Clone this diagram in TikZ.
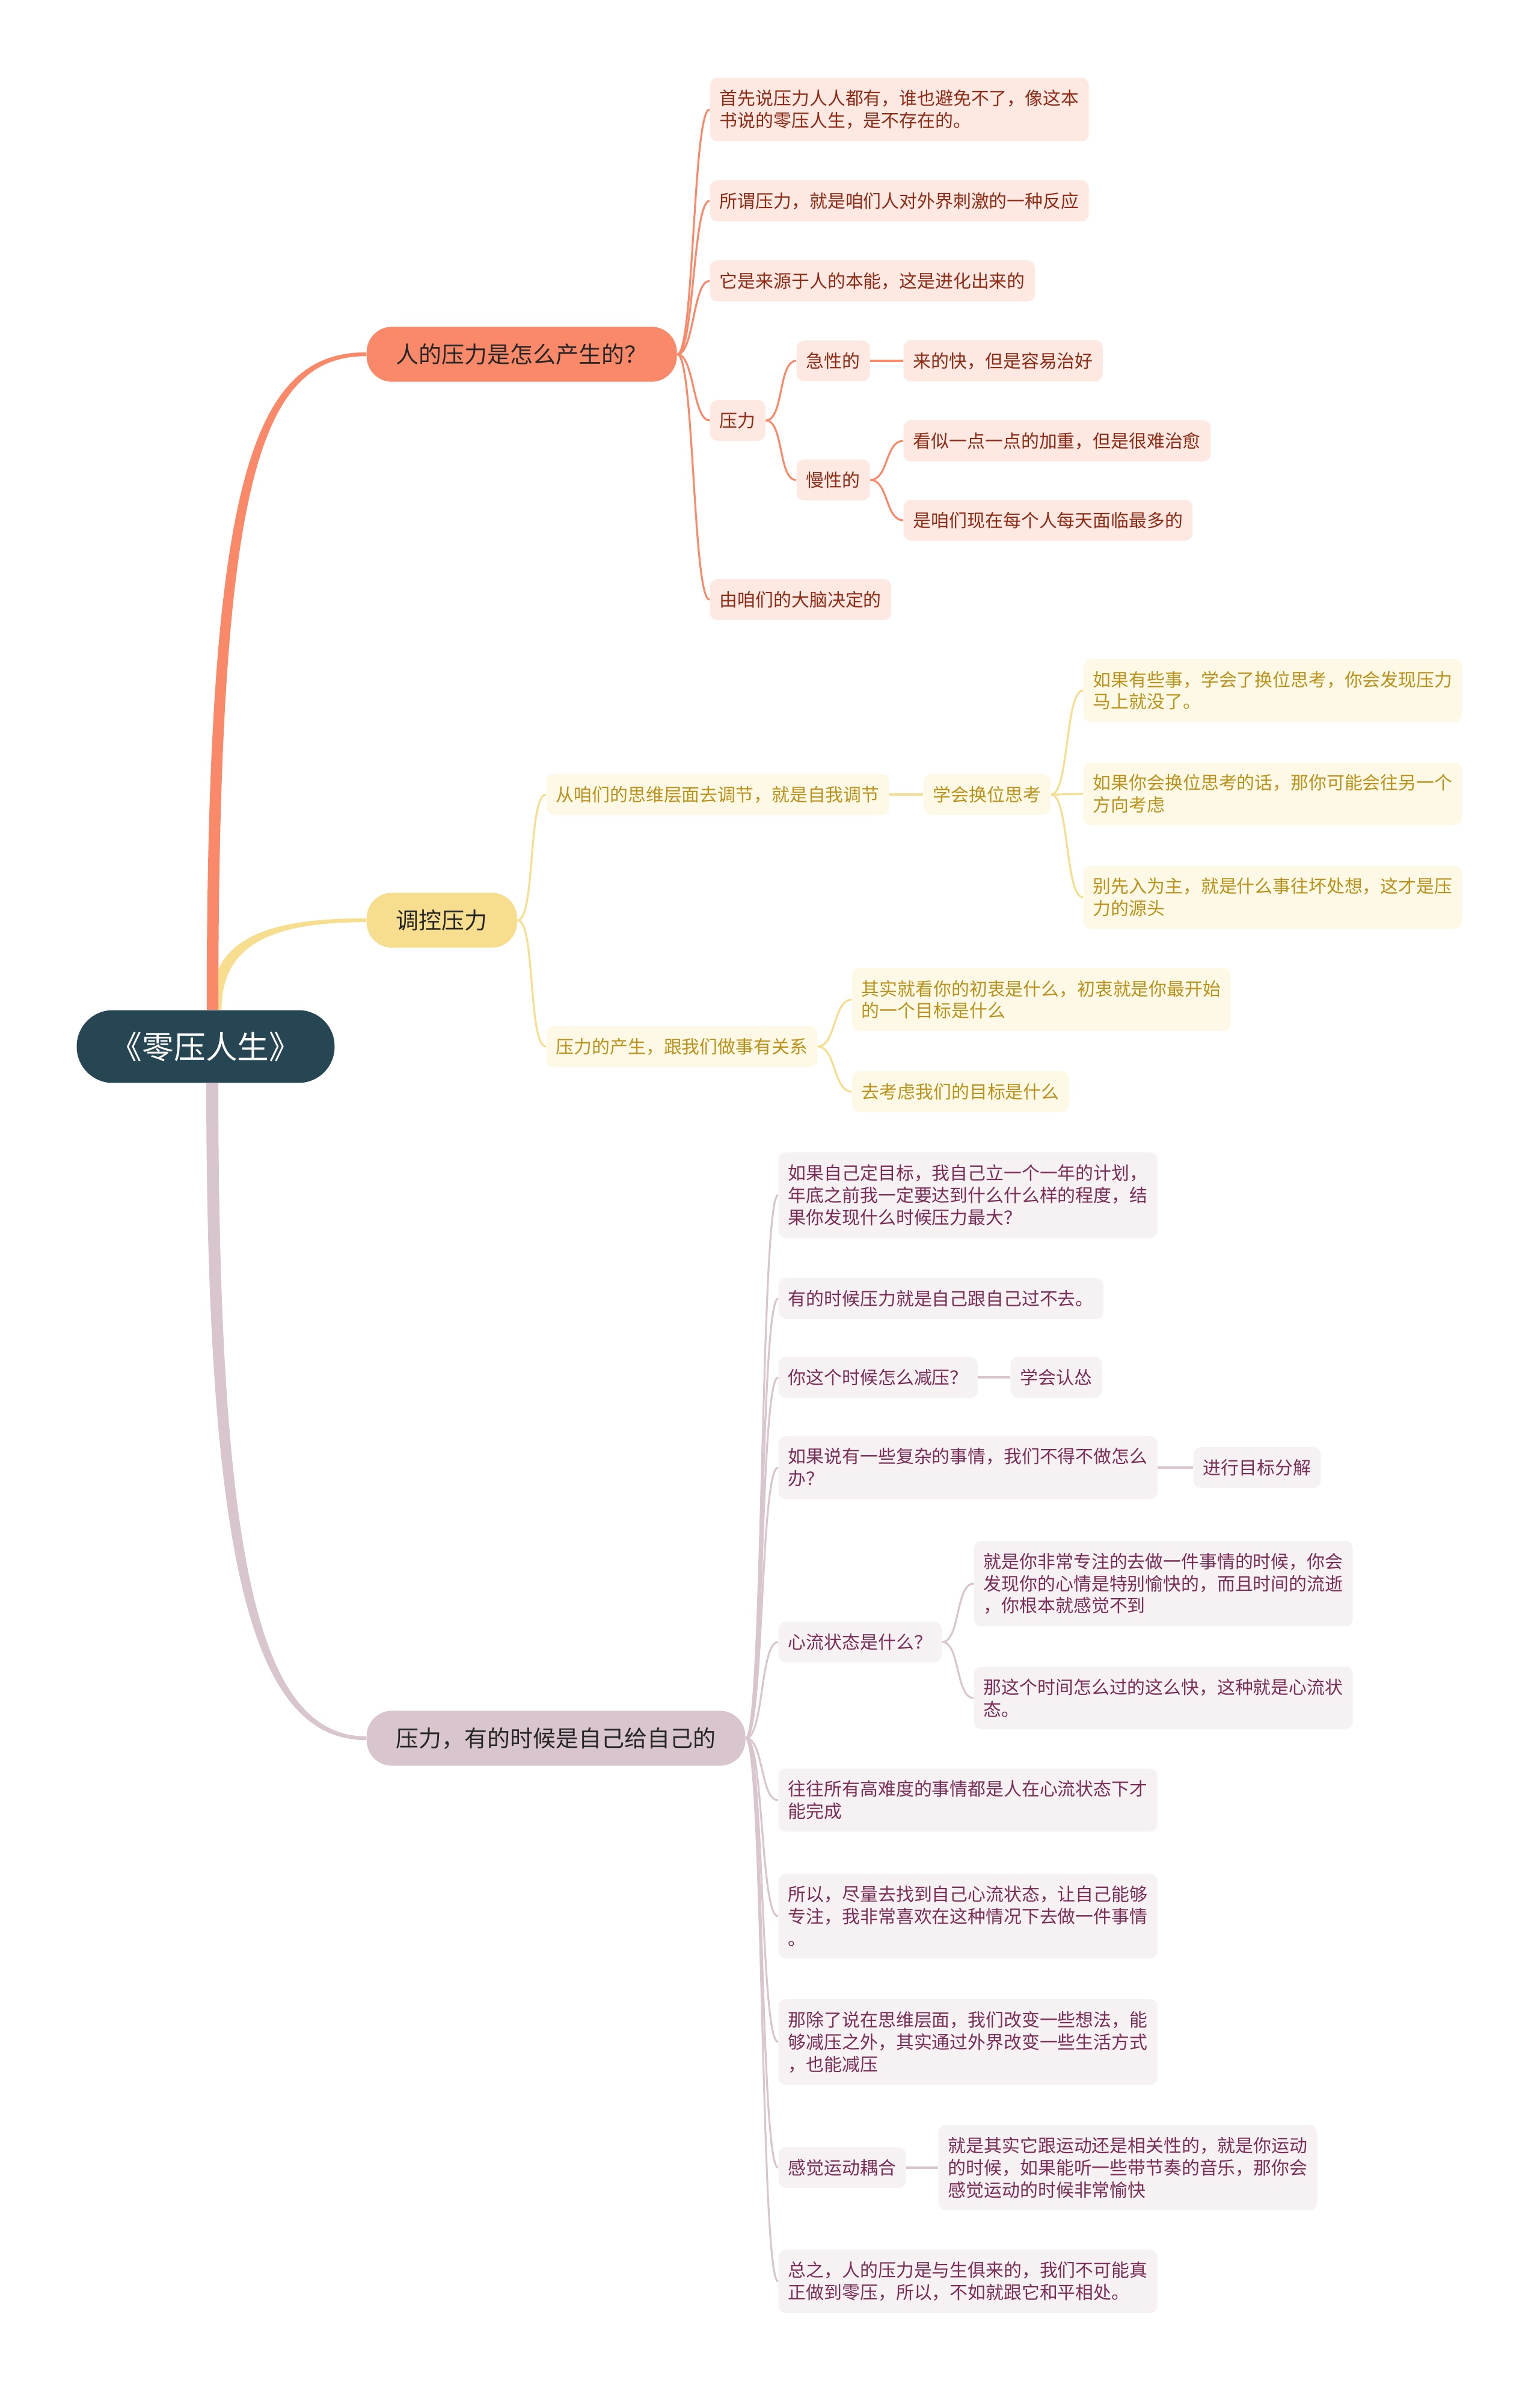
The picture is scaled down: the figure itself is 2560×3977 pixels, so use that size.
\documentclass[tikz,border=0pt]{standalone}
\usepackage{fontspec}
\newfontfamily\cjk{Noto Sans CJK SC}
\definecolor{rootcol}{RGB}{38,70,84}
\definecolor{colA}{RGB}{250,137,105}
\definecolor{colB}{RGB}{247,222,142}
\definecolor{colC}{RGB}{216,197,206}
\definecolor{fillA}{RGB}{253,232,226}
\definecolor{fillB}{RGB}{254,249,230}
\definecolor{fillC}{RGB}{246,241,243}
\definecolor{textA}{RGB}{143,42,20}
\definecolor{textB}{RGB}{186,146,26}
\definecolor{textC}{RGB}{122,45,85}

\begin{document}
\begin{tikzpicture}[x=0.1mm, y=-0.1mm,
    root/.style={fill=rootcol, text=white, rounded corners=17pt, minimum width=122pt, minimum height=34.4pt, font=\cjk\fontsize{15pt}{18pt}\selectfont},
    hub/.style={rounded corners=12pt, anchor=west, inner xsep=14pt, minimum height=26pt, text=black!85, font=\cjk\fontsize{10.8pt}{13pt}\selectfont},
    leaf/.style={rounded corners=3.5pt, anchor=west, inner xsep=4.6pt, inner ysep=5.7pt, align=left, font=\cjk\fontsize{8.5pt}{10.5pt}\selectfont},
    leafA/.style={leaf, fill=fillA, text=textA},
    leafB/.style={leaf, fill=fillB, text=textB},
    leafC/.style={leaf, fill=fillC, text=textC},
    linkA/.style={draw=colA, line width=0.9pt},
    linkB/.style={draw=colB, line width=0.9pt},
    linkC/.style={draw=colC, line width=0.9pt}]
	% Hintergrund
	\fill[white] (0,0) rectangle (2560,3977);
	\useasboundingbox (0,0) rectangle (2560,3977);
	% Wurzel und Hauptaeste
	\node[root] (root) at (342,1740) {《零压人生》};
	\node[hub, fill=colA] (b1) at (609,589) {人的压力是怎么产生的？};
	\node[hub, fill=colB] (b2) at (609,1530) {调控压力};
	\node[hub, fill=colC] (b3) at (609,2890) {压力，有的时候是自己给自己的};
	% Verbindungen zur Wurzel
	\fill[colB] ([xshift=2pt]root.north) .. controls +(0,-120) and +(-165,0) .. ([yshift=0.9pt]b2.west)
		-- ([yshift=-0.9pt]b2.west) .. controls +(-155,0) and +(0,-110) .. ([xshift=7.5pt]root.north) -- cycle;
	\fill[colA] ([xshift=0.5pt]root.north) .. controls +(0,-880) and +(-190,0) .. ([yshift=0.9pt]b1.west)
		-- ([yshift=-0.9pt]b1.west) .. controls +(-180,0) and +(0,-870) .. ([xshift=6pt]root.north) -- cycle;
	\fill[colC] ([xshift=0.3pt]root.south) .. controls +(0,800) and +(-190,0) .. ([yshift=-0.9pt]b3.west)
		-- ([yshift=0.9pt]b3.west) .. controls +(-180,0) and +(0,790) .. ([xshift=6pt]root.south) -- cycle;
	% Ast 1
	\node[leafA] (a1) at (1180,182) {首先说压力人人都有，谁也避免不了，像这本\\书说的零压人生，是不存在的。};
	\node[leafA] (a2) at (1180,334) {所谓压力，就是咱们人对外界刺激的一种反应};
	\node[leafA] (a3) at (1180,467) {它是来源于人的本能，这是进化出来的};
	\node[leafA] (a4) at (1180,699) {压力};
	\node[leafA] (a41) at (1324,600) {急性的};
	\node[leafA] (a411) at (1502,600) {来的快，但是容易治好};
	\node[leafA] (a42) at (1324,798) {慢性的};
	\node[leafA] (a421) at (1502,733) {看似一点一点的加重，但是很难治愈};
	\node[leafA] (a422) at (1502,865) {是咱们现在每个人每天面临最多的};
	\node[leafA] (a5) at (1180,997) {由咱们的大脑决定的};
	\foreach \c in {a1,a2,a3,a4,a5} \draw[linkA] (b1.east) .. controls +(28,0) and +(-28,0) .. (\c.west);
	\foreach \c in {a41,a42} \draw[linkA] (a4.east) .. controls +(30,0) and +(-30,0) .. (\c.west);
	\foreach \c in {a421,a422} \draw[linkA] (a42.east) .. controls +(30,0) and +(-30,0) .. (\c.west);
	\draw[linkA] (a41.east) -- (a411.west);
	% Ast 2
	\node[leafB] (c1) at (908,1321) {从咱们的思维层面去调节，就是自我调节};
	\node[leafB] (c11) at (1535,1321) {学会换位思考};
	\node[leafB] (c111) at (1801,1148) {如果有些事，学会了换位思考，你会发现压力\\马上就没了。};
	\node[leafB] (c112) at (1801,1320) {如果你会换位思考的话，那你可能会往另一个\\方向考虑};
	\node[leafB] (c113) at (1801,1492) {别先入为主，就是什么事往坏处想，这才是压\\力的源头};
	\node[leafB] (c2) at (908,1740) {压力的产生，跟我们做事有关系};
	\node[leafB] (c21) at (1416,1662) {其实就看你的初衷是什么，初衷就是你最开始\\的一个目标是什么};
	\node[leafB] (c22) at (1416,1815) {去考虑我们的目标是什么};
	\foreach \c in {c1,c2} \draw[linkB] (b2.east) .. controls +(30,0) and +(-30,0) .. (\c.west);
	\foreach \c in {c111,c112,c113} \draw[linkB] (c11.east) .. controls +(30,0) and +(-30,0) .. (\c.west);
	\foreach \c in {c21,c22} \draw[linkB] (c2.east) .. controls +(30,0) and +(-30,0) .. (\c.west);
	\draw[linkB] (c1.east) -- (c11.west);
	% Ast 3
	\node[leafC] (d1) at (1294,1987) {如果自己定目标，我自己立一个一年的计划，\\年底之前我一定要达到什么什么样的程度，结\\果你发现什么时候压力最大？};
	\node[leafC] (d2) at (1294,2159) {有的时候压力就是自己跟自己过不去。};
	\node[leafC] (d3) at (1294,2290) {你这个时候怎么减压？};
	\node[leafC] (d31) at (1680,2290) {学会认怂};
	\node[leafC] (d4) at (1294,2440) {如果说有一些复杂的事情，我们不得不做怎么\\办？};
	\node[leafC] (d41) at (1984,2440) {进行目标分解};
	\node[leafC] (d5) at (1294,2730) {心流状态是什么？};
	\node[leafC] (d51) at (1619,2633) {就是你非常专注的去做一件事情的时候，你会\\发现你的心情是特别愉快的，而且时间的流逝\\，你根本就感觉不到};
	\node[leafC] (d52) at (1619,2823) {那这个时间怎么过的这么快，这种就是心流状\\态。};
	\node[leafC] (d6) at (1294,2993) {往往所有高难度的事情都是人在心流状态下才\\能完成};
	\node[leafC] (d7) at (1294,3186) {所以，尽量去找到自己心流状态，让自己能够\\专注，我非常喜欢在这种情况下去做一件事情\\。};
	\node[leafC] (d8) at (1294,3395) {那除了说在思维层面，我们改变一些想法，能\\够减压之外，其实通过外界改变一些生活方式\\，也能减压};
	\node[leafC] (d9) at (1294,3604) {感觉运动耦合};
	\node[leafC] (d91) at (1560,3604) {就是其实它跟运动还是相关性的，就是你运动\\的时候，如果能听一些带节奏的音乐，那你会\\感觉运动的时候非常愉快};
	\node[leafC] (d10) at (1294,3793) {总之，人的压力是与生俱来的，我们不可能真\\正做到零压，所以，不如就跟它和平相处。};
	\foreach \c in {d1,d2,d3,d4,d5,d6,d7,d8,d9,d10} \draw[linkC] (b3.east) .. controls +(30,0) and +(-30,0) .. (\c.west);
	\foreach \c in {d51,d52} \draw[linkC] (d5.east) .. controls +(30,0) and +(-30,0) .. (\c.west);
	\draw[linkC] (d3.east) -- (d31.west);
	\draw[linkC] (d4.east) -- (d41.west);
	\draw[linkC] (d9.east) -- (d91.west);
\end{tikzpicture}
\end{document}
